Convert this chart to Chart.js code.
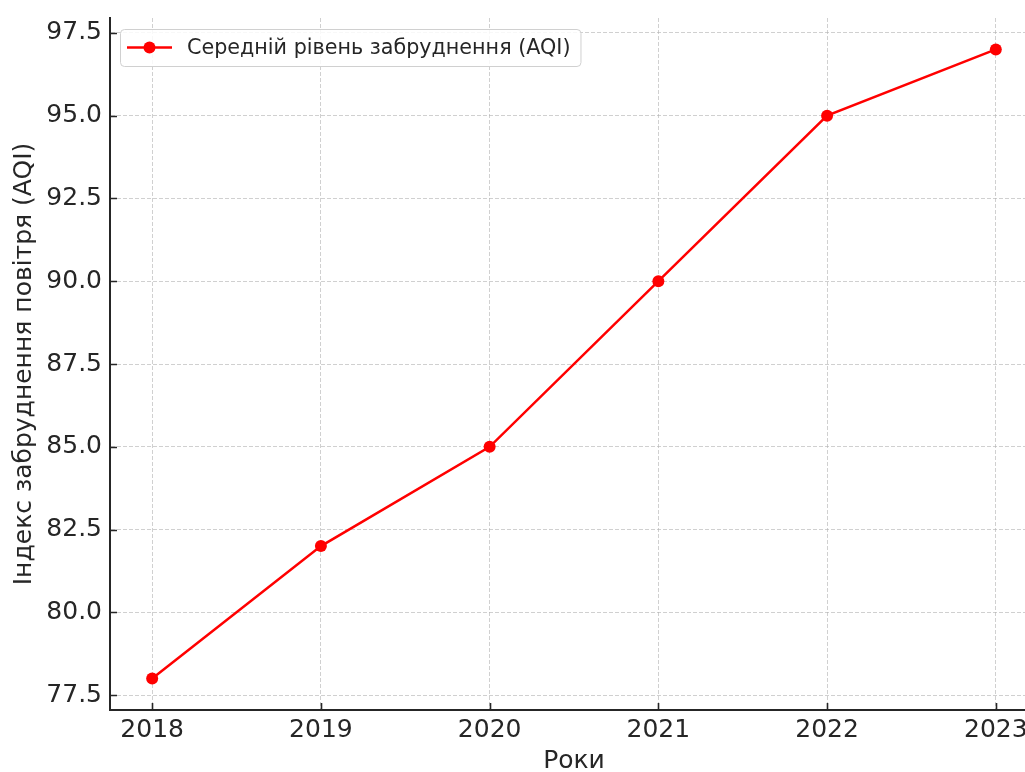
<!DOCTYPE html>
<html lang="uk">
<head>
<meta charset="utf-8">
<title>Середній рівень забруднення (AQI)</title>
<script src="https://cdn.jsdelivr.net/npm/chart.js@4/dist/chart.umd.min.js"></script>
<style>
  html, body { margin: 0; padding: 0; background: #ffffff; overflow: hidden; width: 1025px; height: 772px; }
  #wrap { position: absolute; left: 0; top: 0; width: 1044px; height: 772px; }
</style>
</head>
<body>
<div id="wrap"><canvas id="chart"></canvas></div>
<script>
// Years and average air-quality index values
const years = [2018, 2019, 2020, 2021, 2022, 2023];
const aqi = [78, 82, 85, 90, 95, 97];

// Tick positions for both axes
const xTicks = [2018, 2019, 2020, 2021, 2022, 2023];
const yTicks = [77.5, 80.0, 82.5, 85.0, 87.5, 90.0, 92.5, 95.0, 97.5];

// Text
const seriesLabel = 'Середній рівень забруднення (AQI)';
const xTitle = 'Роки';
const yTitle = 'Індекс забруднення повітря (AQI)';

const FONT = "'DejaVu Sans', 'Liberation Sans', sans-serif";
const TEXT = '#262626';
const RED = '#ff0000';
const GRID = 'rgba(176,176,176,0.6)';

// Short dark tick marks pointing into the plot area
const innerTicks = {
  id: 'innerTicks',
  afterDatasetsDraw(chart) {
    const { ctx, chartArea, scales } = chart;
    ctx.save();
    ctx.strokeStyle = TEXT;
    ctx.lineWidth = 1.6;
    ctx.beginPath();
    scales.x.ticks.forEach(t => {
      const px = Math.round(scales.x.getPixelForValue(t.value)) + 0.5;
      ctx.moveTo(px, chartArea.bottom);
      ctx.lineTo(px, chartArea.bottom - 7);
    });
    scales.y.ticks.forEach(t => {
      const py = Math.round(scales.y.getPixelForValue(t.value)) + 0.5;
      ctx.moveTo(chartArea.left, py);
      ctx.lineTo(chartArea.left + 7, py);
    });
    ctx.stroke();
    ctx.restore();
  }
};

// Legend box in the upper-left corner of the plot
const boxLegend = {
  id: 'boxLegend',
  afterDraw(chart) {
    const { ctx, chartArea } = chart;
    const ds = chart.data.datasets[0];
    const left = chartArea.left + 10;
    const top = chartArea.top + 11;
    const h = 37;
    const cy = top + h / 2;
    ctx.save();
    ctx.font = `20.7px ${FONT}`;
    const textX = left + 67;
    const w = textX - left + ctx.measureText(ds.label).width + 10;
    ctx.beginPath();
    ctx.roundRect(left + 0.5, top + 0.5, w, h, 4);
    ctx.fillStyle = 'rgba(255,255,255,0.85)';
    ctx.fill();
    ctx.strokeStyle = '#d0d0d0';
    ctx.lineWidth = 1;
    ctx.stroke();
    ctx.strokeStyle = ds.borderColor;
    ctx.lineWidth = ds.borderWidth;
    ctx.beginPath();
    ctx.moveTo(left + 7, cy);
    ctx.lineTo(left + 52, cy);
    ctx.stroke();
    ctx.fillStyle = ds.pointBackgroundColor;
    ctx.beginPath();
    ctx.arc(left + 29.5, cy, ds.pointRadius, 0, Math.PI * 2);
    ctx.fill();
    ctx.fillStyle = TEXT;
    ctx.textBaseline = 'middle';
    ctx.textAlign = 'left';
    ctx.fillText(ds.label, textX, cy + 1);
    ctx.restore();
  }
};

new Chart(document.getElementById('chart'), {
  type: 'line',
  data: {
    datasets: [{
      label: seriesLabel,
      data: years.map((y, i) => ({ x: y, y: aqi[i] })),
      borderColor: RED,
      backgroundColor: RED,
      borderWidth: 2.5,
      pointRadius: 6,
      pointHoverRadius: 6,
      pointBorderWidth: 0,
      pointBackgroundColor: RED,
      tension: 0,
      fill: false
    }]
  },
  options: {
    responsive: true,
    maintainAspectRatio: false,
    animation: false,
    events: [],
    layout: { padding: { top: 18, left: 0, right: 0, bottom: 0 } },
    plugins: {
      legend: { display: false },
      tooltip: { enabled: false },
      title: { display: false }
    },
    scales: {
      x: {
        type: 'linear',
        min: 2017.75,
        max: 2023.25,
        afterBuildTicks: axis => { axis.ticks = xTicks.map(v => ({ value: v })); },
        afterFit: axis => {
          axis.height = 62;
          axis.paddingLeft = 0; axis.paddingRight = 0;
          axis.paddingTop = 0; axis.paddingBottom = 0;
        },
        grid: {
          color: GRID,
          lineWidth: 1,
          drawTicks: false
        },
        border: { display: true, color: TEXT, width: 2, dash: [4, 2] },
        ticks: {
          padding: 5,
          color: TEXT,
          font: { family: FONT, size: 25 },
          maxRotation: 0,
          autoSkip: false,
          callback: v => String(v)
        },
        title: {
          display: true,
          text: xTitle,
          color: TEXT,
          font: { family: FONT, size: 25, lineHeight: 0.85 },
          padding: { top: 0, bottom: 0 }
        }
      },
      y: {
        type: 'linear',
        min: 77.05,
        max: 97.95,
        afterBuildTicks: axis => { axis.ticks = yTicks.map(v => ({ value: v })); },
        afterFit: axis => {
          axis.width = 110;
          axis.paddingLeft = 0; axis.paddingRight = 0;
          axis.paddingTop = 0; axis.paddingBottom = 0;
        },
        grid: {
          color: GRID,
          lineWidth: 1,
          drawTicks: false
        },
        border: { display: true, color: TEXT, width: 2, dash: [4, 2] },
        ticks: {
          padding: 8,
          color: TEXT,
          font: { family: FONT, size: 25 },
          autoSkip: false,
          callback: v => Number(v).toFixed(1)
        },
        title: {
          display: true,
          text: yTitle,
          color: TEXT,
          font: { family: FONT, size: 25, lineHeight: 1 },
          padding: { top: 12, bottom: 0 }
        }
      }
    }
  },
  plugins: [innerTicks, boxLegend]
});
</script>
</body>
</html>
